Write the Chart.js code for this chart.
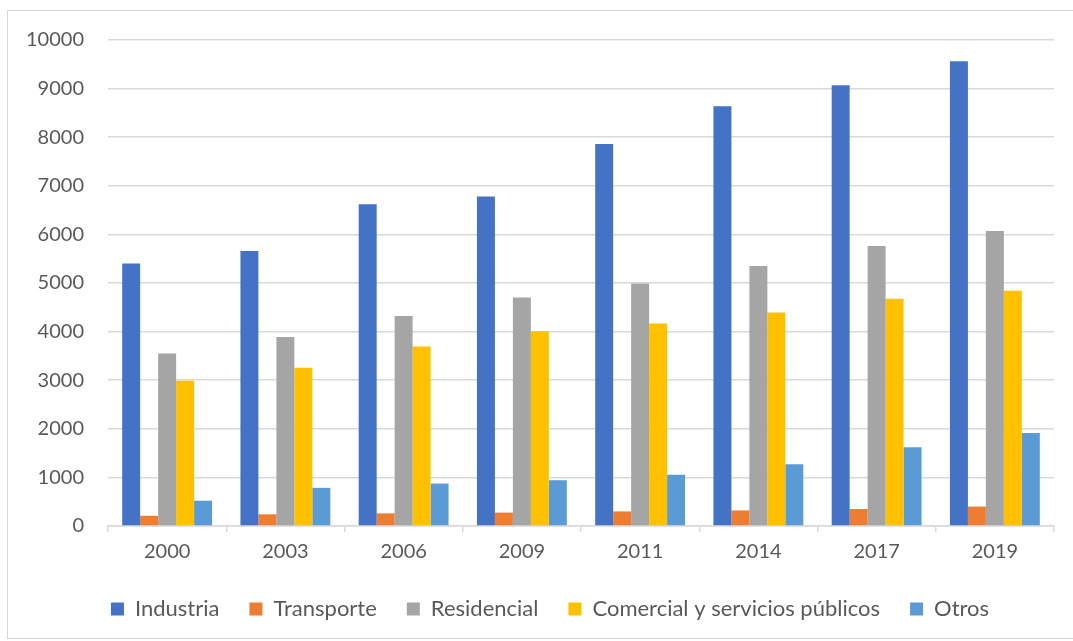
<!DOCTYPE html>
<html>
<head>
<meta charset="utf-8">
<script src="https://cdn.jsdelivr.net/npm/chart.js@4/dist/chart.umd.min.js"></script>
<style>
  html, body { margin: 0; padding: 0; background: #fff; }
  #wrap { position: relative; width: 1073px; height: 641px; overflow: hidden; }
  #frame { position: absolute; left: 7px; top: 10px; width: 1120px; height: 629px; border: 1px solid #d6d6d6; box-sizing: border-box; }
  canvas { position: absolute; left: 0; top: 0; }
</style>
</head>
<body>
<div id="wrap">
  <div id="frame"></div>
  <canvas id="c" width="1073" height="641"></canvas>
</div>
<script>
const categories = ["2000", "2003", "2006", "2009", "2011", "2014", "2017", "2019"];
const industria   = [5400, 5660, 6620, 6780, 7860, 8635, 9070, 9565];
const transporte  = [210, 240, 260, 275, 300, 320, 350, 400];
const residencial = [3550, 3890, 4320, 4700, 4990, 5350, 5760, 6070];
const comercial   = [2990, 3255, 3695, 4005, 4165, 4395, 4675, 4840];
const otros       = [520, 785, 873, 942, 1055, 1270, 1620, 1915];
const seriesNames = ["Industria", "Transporte", "Residencial", "Comercial y servicios públicos", "Otros"];
const yTicks = [0, 1000, 2000, 3000, 4000, 5000, 6000, 7000, 8000, 9000, 10000];

const colors = ["#4472C4", "#ED7D31", "#A5A5A5", "#FFC000", "#5B9BD5"];
const seriesData = [industria, transporte, residencial, comercial, otros];
const fontFamily = "Lato, 'Open Sans', sans-serif";
const font = { family: fontFamily, size: 20 };
const legendFont = { family: fontFamily, size: 22 };
const textColor = "#595959";

// shifts the legend block so it is centred like the original (chart box extends past the right edge)
const legendShift = {
  id: "legendShift",
  afterLayout(chart) {
    const lg = chart.legend;
    if (lg) { lg.left += 18; lg.right += 18; }
  }
};

new Chart(document.getElementById("c"), {
  type: "bar",
  data: {
    labels: categories,
    datasets: seriesNames.map((n, i) => ({
      label: n,
      data: seriesData[i],
      backgroundColor: colors[i],
      borderWidth: 0,
      categoryPercentage: 0.76,
      barPercentage: 1.0
    }))
  },
  plugins: [legendShift],
  options: {
    responsive: false,
    animation: false,
    devicePixelRatio: 1,
    layout: { padding: { left: 10, right: 19, top: 40, bottom: 11 } },
    plugins: {
      tooltip: { enabled: false },
      legend: {
        position: "bottom",
        labels: {
          font: legendFont,
          color: textColor,
          boxWidth: 13,
          boxHeight: 13,
          padding: 30
        }
      }
    },
    scales: {
      x: {
        grid: { display: true, drawOnChartArea: false, offset: true, color: "#d9d9d9", lineWidth: 1.5, tickLength: 6 },
        border: { display: true, color: "#d9d9d9", width: 1.5 },
        ticks: { font: font, color: textColor, padding: 8 },
        afterFit: s => { s.height = 42; }
      },
      y: {
        min: 0,
        max: 10000,
        afterBuildTicks: s => { s.ticks = yTicks.map(v => ({ value: v })); },
        grid: { color: "#d9d9d9", lineWidth: 1.5, drawTicks: false },
        border: { display: false },
        ticks: { font: font, color: textColor, padding: 24, callback: v => String(v) },
        afterFit: s => { s.width = 98; }
      }
    }
  }
});
</script>
</body>
</html>
